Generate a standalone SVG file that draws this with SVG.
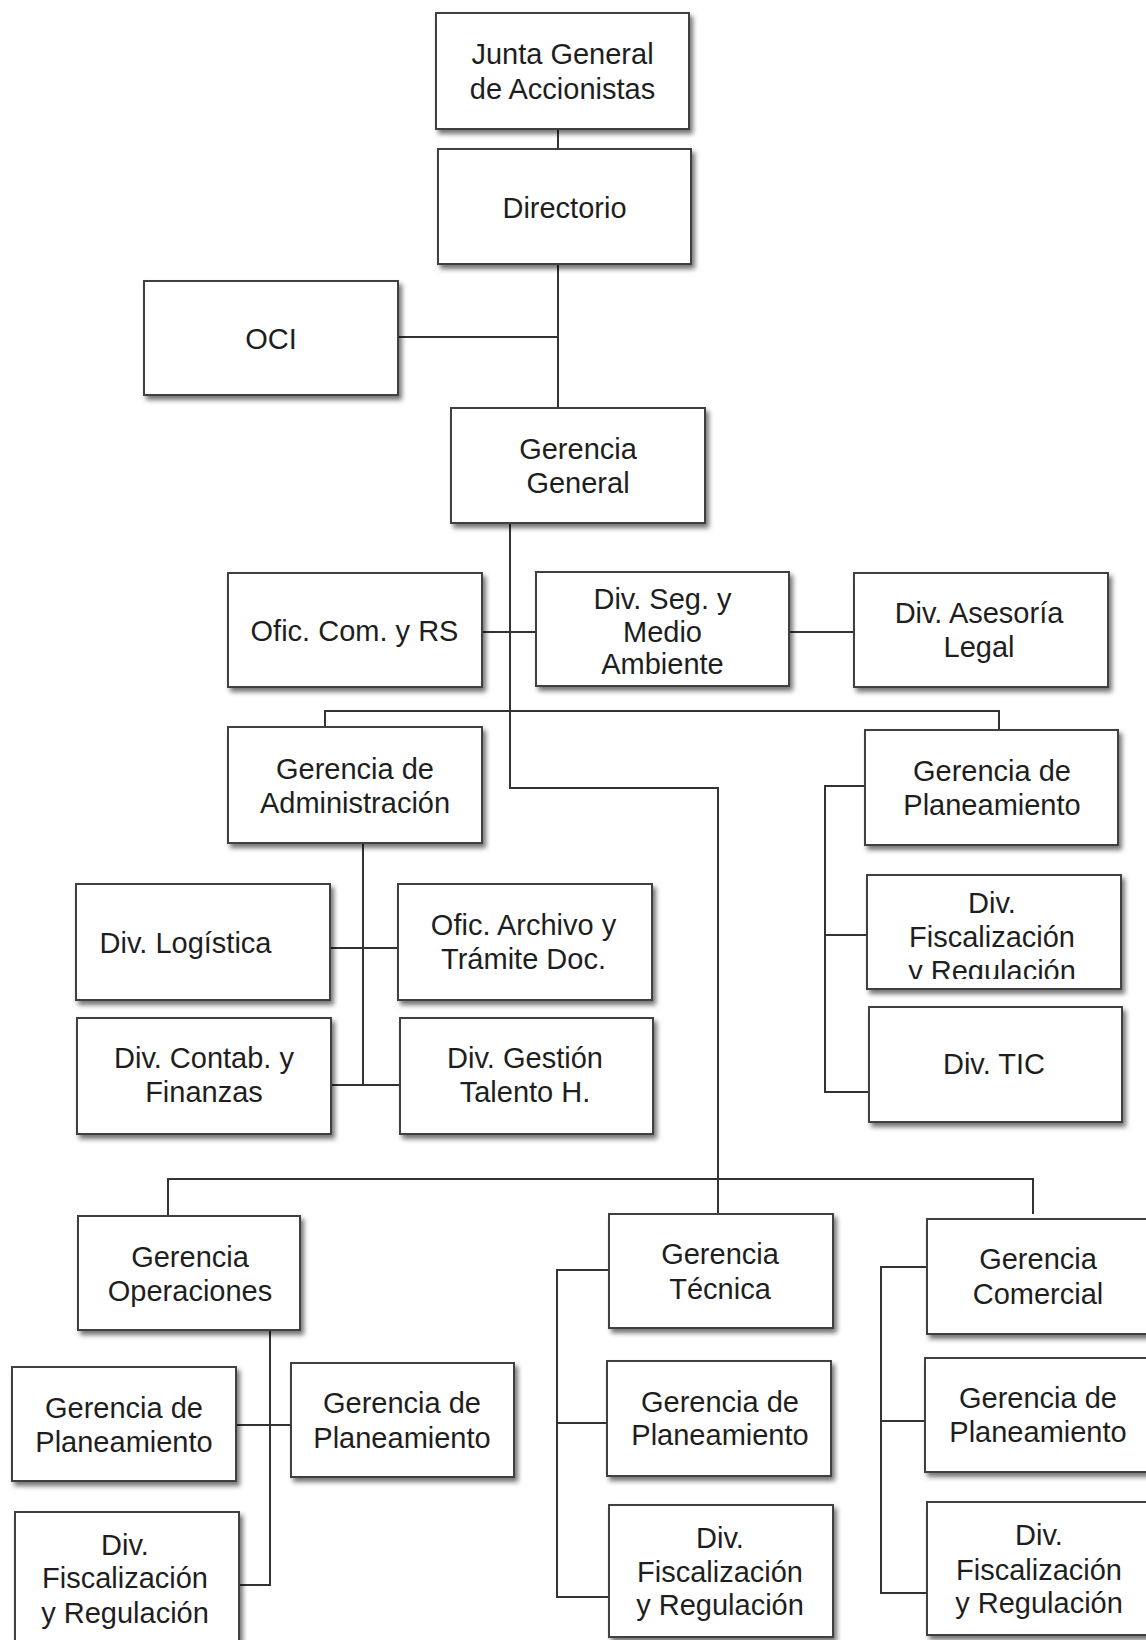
<svg xmlns="http://www.w3.org/2000/svg" width="1146" height="1640" viewBox="0 0 1146 1640">
<style>
.box{fill:#fff;stroke:#404040;stroke-width:2;filter:url(#sh)}
.t{font-family:"Liberation Sans",Arial,sans-serif;font-size:29px;fill:#1e1e1e;text-anchor:middle}
.c{fill:none;stroke:#333;stroke-width:2}
</style>
<defs>
<filter id="sh" x="-10%" y="-10%" width="125%" height="130%">
<feDropShadow dx="3" dy="4" stdDeviation="2.5" flood-color="#000" flood-opacity="0.55"/>
</filter>
<clipPath id="clipSeg"><rect x="536" y="572" width="253" height="103"/></clipPath>
<clipPath id="clipFisc"><rect x="867" y="875" width="254" height="104"/></clipPath>
</defs>
<rect width="1146" height="1640" fill="#fff"/>
<g id="connectors">
<path class="c" d="M558,129V149"/>
<path class="c" d="M558,264V408"/>
<path class="c" d="M398,337H558"/>
<path class="c" d="M510,523V788H718V1214"/>
<path class="c" d="M482,632H536"/>
<path class="c" d="M789,632H854"/>
<path class="c" d="M325,727V711H999V730"/>
<path class="c" d="M363,843V1086"/>
<path class="c" d="M330,948H398"/>
<path class="c" d="M331,1085H400"/>
<path class="c" d="M865,786H825V1092H869"/>
<path class="c" d="M825,935H867"/>
<path class="c" d="M168,1216V1179H1033V1214"/>
<path class="c" d="M270,1330V1585H239"/>
<path class="c" d="M236,1425H291"/>
<path class="c" d="M609,1270H557V1597H609"/>
<path class="c" d="M557,1423H607"/>
<path class="c" d="M927,1267H881V1593H927"/>
<path class="c" d="M881,1421H925"/>
</g>
<g id="junta"><rect class="box" x="436" y="13" width="253" height="116"/><text class="t" x="562.5" y="64">Junta General</text><text class="t" x="562.5" y="99">de Accionistas</text></g>
<g id="directorio"><rect class="box" x="438" y="149" width="253" height="115"/><text class="t" x="564.5" y="218">Directorio</text></g>
<g id="oci"><rect class="box" x="144" y="281" width="254" height="114"/><text class="t" x="271" y="349">OCI</text></g>
<g id="gerencia-general"><rect class="box" x="451" y="408" width="254" height="115"/><text class="t" x="578" y="459">Gerencia</text><text class="t" x="578" y="493">General</text></g>
<g id="ofic-com"><rect class="box" x="228" y="573" width="254" height="114"/><text class="t" x="354.5" y="641">Ofic. Com. y RS</text></g>
<g id="div-seg"><rect class="box" x="536" y="572" width="253" height="114"/><g clip-path="url(#clipSeg)"><text class="t" x="662.5" y="609">Div. Seg. y</text><text class="t" x="662.5" y="642">Medio</text><text class="t" x="662.5" y="674">Ambiente</text></g></g>
<g id="div-asesoria"><rect class="box" x="854" y="573" width="254" height="114"/><text class="t" x="979" y="623">Div. Asesoría</text><text class="t" x="979" y="657">Legal</text></g>
<g id="gerencia-administracion"><rect class="box" x="228" y="727" width="254" height="116"/><text class="t" x="355" y="779">Gerencia de</text><text class="t" x="355" y="813">Administración</text></g>
<g id="gerencia-planeamiento-r"><rect class="box" x="865" y="730" width="253" height="115"/><text class="t" x="992" y="781">Gerencia de</text><text class="t" x="992" y="815">Planeamiento</text></g>
<g id="div-logistica"><rect class="box" x="76" y="884" width="254" height="116"/><text class="t" x="185.5" y="953">Div. Logística</text></g>
<g id="ofic-archivo"><rect class="box" x="398" y="884" width="254" height="116"/><text class="t" x="523.5" y="935">Ofic. Archivo y</text><text class="t" x="523.5" y="969">Trámite Doc.</text></g>
<g id="div-fisc-r"><rect class="box" x="867" y="875" width="254" height="114"/><g clip-path="url(#clipFisc)"><text class="t" x="992" y="913">Div.</text><text class="t" x="992" y="947">Fiscalización</text><text class="t" x="992" y="981">y Regulación</text></g></g>
<g id="div-tic"><rect class="box" x="869" y="1007" width="253" height="115"/><text class="t" x="994" y="1074">Div. TIC</text></g>
<g id="div-contab"><rect class="box" x="77" y="1018" width="254" height="116"/><text class="t" x="204" y="1068">Div. Contab. y</text><text class="t" x="204" y="1102">Finanzas</text></g>
<g id="div-gestion"><rect class="box" x="400" y="1018" width="253" height="116"/><text class="t" x="525" y="1068">Div. Gestión</text><text class="t" x="525" y="1102">Talento H.</text></g>
<g id="gerencia-operaciones"><rect class="box" x="78" y="1216" width="222" height="114"/><text class="t" x="190" y="1267">Gerencia</text><text class="t" x="190" y="1301">Operaciones</text></g>
<g id="gerencia-tecnica"><rect class="box" x="609" y="1214" width="224" height="114"/><text class="t" x="720" y="1264">Gerencia</text><text class="t" x="720" y="1299">Técnica</text></g>
<g id="gerencia-comercial"><rect class="box" x="927" y="1219" width="230" height="115"/><text class="t" x="1038" y="1269">Gerencia</text><text class="t" x="1038" y="1304">Comercial</text></g>
<g id="gerencia-planeamiento-op1"><rect class="box" x="12" y="1367" width="224" height="114"/><text class="t" x="124" y="1418">Gerencia de</text><text class="t" x="124" y="1452">Planeamiento</text></g>
<g id="gerencia-planeamiento-op2"><rect class="box" x="291" y="1363" width="223" height="114"/><text class="t" x="402" y="1413">Gerencia de</text><text class="t" x="402" y="1448">Planeamiento</text></g>
<g id="div-fisc-op"><rect class="box" x="15" y="1512" width="224" height="140"/><text class="t" x="125" y="1555">Div.</text><text class="t" x="125" y="1588">Fiscalización</text><text class="t" x="125" y="1623">y Regulación</text></g>
<g id="gerencia-planeamiento-tec"><rect class="box" x="607" y="1361" width="224" height="115"/><text class="t" x="720" y="1412">Gerencia de</text><text class="t" x="720" y="1445">Planeamiento</text></g>
<g id="div-fisc-tec"><rect class="box" x="609" y="1505" width="224" height="132"/><text class="t" x="720" y="1548">Div.</text><text class="t" x="720" y="1582">Fiscalización</text><text class="t" x="720" y="1615">y Regulación</text></g>
<g id="gerencia-planeamiento-com"><rect class="box" x="925" y="1358" width="232" height="114"/><text class="t" x="1038" y="1408">Gerencia de</text><text class="t" x="1038" y="1442">Planeamiento</text></g>
<g id="div-fisc-com"><rect class="box" x="927" y="1502" width="230" height="133"/><text class="t" x="1039" y="1545">Div.</text><text class="t" x="1039" y="1580">Fiscalización</text><text class="t" x="1039" y="1613">y Regulación</text></g>
</svg>
